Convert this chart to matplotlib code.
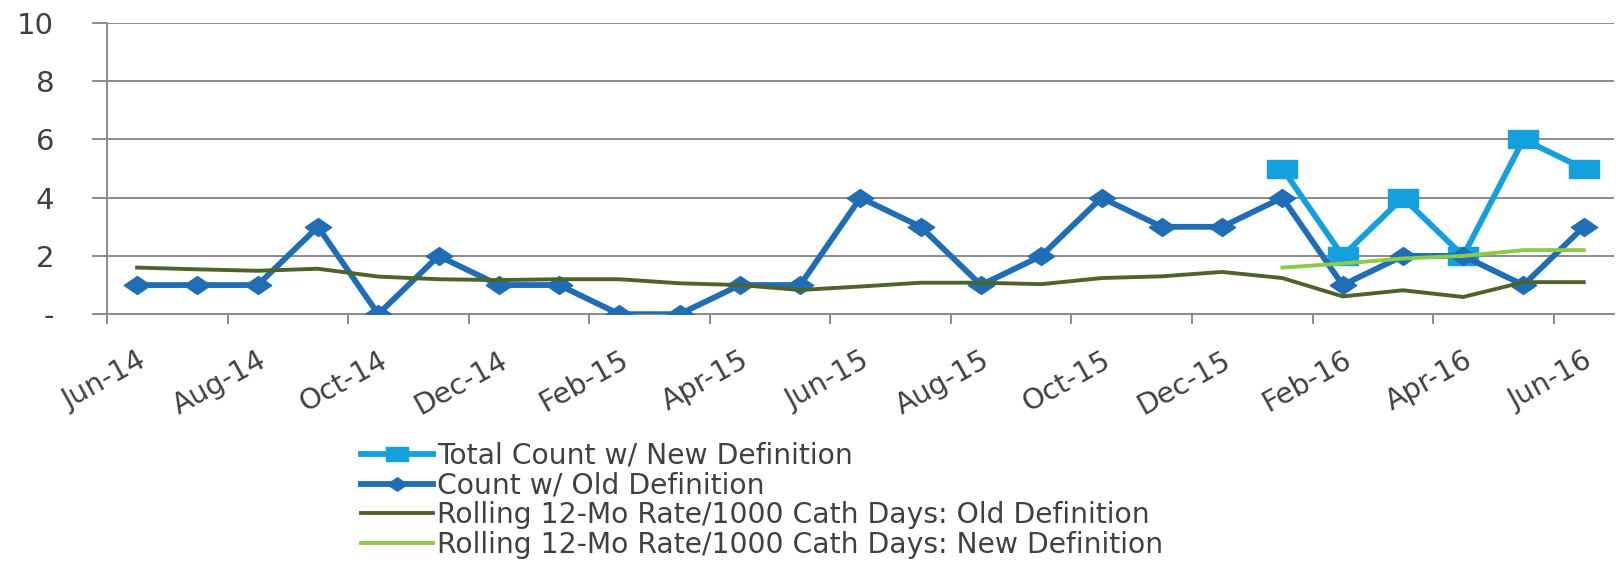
import numpy as np
import matplotlib
matplotlib.use("Agg")
import matplotlib.pyplot as plt
from matplotlib.path import Path

months = ['Jun-14', 'Jul-14', 'Aug-14', 'Sep-14', 'Oct-14', 'Nov-14', 'Dec-14',
          'Jan-15', 'Feb-15', 'Mar-15', 'Apr-15', 'May-15', 'Jun-15', 'Jul-15',
          'Aug-15', 'Sep-15', 'Oct-15', 'Nov-15', 'Dec-15', 'Jan-16', 'Feb-16',
          'Mar-16', 'Apr-16', 'May-16', 'Jun-16']

count_old = [1, 1, 1, 3, 0, 2, 1, 1, 0, 0, 1, 1, 4, 3, 1, 2, 4, 3, 3, 4, 1, 2, 2, 1, 3]
total_new = [np.nan] * 19 + [5, 2, 4, 2, 6, 5]
rate_old = [1.6, 1.54, 1.49, 1.56, 1.29, 1.2, 1.17, 1.2, 1.2, 1.06, 1.0, 0.83, 0.95,
            1.08, 1.08, 1.03, 1.24, 1.3, 1.45, 1.24, 0.61, 0.82, 0.59, 1.1, 1.1]
rate_new = [np.nan] * 19 + [1.6, 1.74, 1.91, 2.0, 2.2, 2.2]

labels = ['Total Count w/ New Definition', 'Count w/ Old Definition',
          'Rolling 12-Mo Rate/1000 Cath Days: Old Definition',
          'Rolling 12-Mo Rate/1000 Cath Days: New Definition']

# wide markers to mimic the stretched look of the original
diamond = Path([(-1, 0), (0, 0.68), (1, 0), (0, -0.68), (-1, 0)],
               [Path.MOVETO, Path.LINETO, Path.LINETO, Path.LINETO, Path.CLOSEPOLY])
rect = Path([(-1, -0.62), (1, -0.62), (1, 0.62), (-1, 0.62), (-1, -0.62)],
            [Path.MOVETO, Path.LINETO, Path.LINETO, Path.LINETO, Path.CLOSEPOLY])

plt.rcParams['font.family'] = 'DejaVu Sans'
text_col = '#404040'
grid_col = '#8a8a8a'

fig = plt.figure(figsize=(16.16, 5.62), dpi=100)
ax = fig.add_axes([0.0662, 0.441, 0.9325, 0.518])

x = np.arange(len(months))
ax.plot(x, total_new, color='#14a0dc', lw=4.2, marker=rect, ms=22, zorder=3, label=labels[0])
ax.plot(x, count_old, color='#1f6eb5', lw=4.2, marker=diamond, ms=19, zorder=4, label=labels[1])
ax.plot(x, rate_old, color='#4f6228', lw=2.8, zorder=5, label=labels[2])
ax.plot(x, rate_new, color='#8ccb4a', lw=2.8, zorder=5, label=labels[3])

ax.set_xlim(-0.5, len(months) - 0.5)
ax.set_ylim(0, 10)
ax.set_yticks([0, 2, 4, 6, 8, 10])
ax.set_yticklabels(['-', '2', '4', '6', '8', '10'])
ax.yaxis.grid(True, color=grid_col, lw=1.4)
ax.set_axisbelow(True)

# tick marks between categories, labels on every other category
ax.set_xticks(np.arange(-0.5, len(months) - 1, 2))
ax.set_xticklabels([])
ax.set_xticks(x[::2], minor=True)
ax.set_xticklabels(months[::2], minor=True, rotation=29, ha='right', va='top',
                   rotation_mode='anchor', fontsize=20.5, color=text_col)
ax.tick_params(axis='x', which='minor', length=0, pad=23)
ax.tick_params(axis='x', which='major', length=7, width=1.4, color=grid_col)
ax.tick_params(axis='y', length=11, width=1.4, color=grid_col, pad=27,
               labelsize=21, labelcolor=text_col)

for s in ['top', 'right']:
    ax.spines[s].set_visible(False)
for s in ['left', 'bottom']:
    ax.spines[s].set_color(grid_col)
    ax.spines[s].set_linewidth(1.4)

leg = fig.legend(loc='upper left', bbox_to_anchor=(0.2234, 0.214), frameon=False,
                 fontsize=20.3, handlelength=2.55, handletextpad=0.15, labelspacing=0.06,
                 borderpad=0, borderaxespad=0, markerscale=0.75, numpoints=1)
for t in leg.get_texts():
    t.set_color(text_col)

fig.savefig('out.png', dpi=100)
